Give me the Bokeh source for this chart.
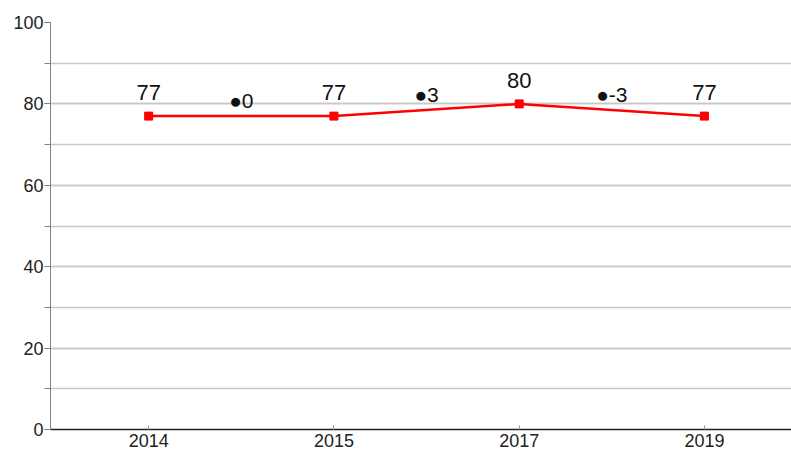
from bokeh.plotting import figure
from bokeh.models import ColumnDataSource, SingleIntervalTicker, FixedTicker, Range1d
from bokeh.embed import file_html
from bokeh.resources import INLINE
from bokeh.core.properties import value

years = ["2014", "2015", "2017", "2019"]
scores = [77, 77, 80, 77]
changes = [0, 3, -3]

xs = list(range(len(years)))
mid_x = [(xs[i] + xs[i + 1]) / 2 for i in range(len(changes))]
mid_y = [(scores[i] + scores[i + 1]) / 2 for i in range(len(changes))]
change_txt = ["\u25cf" + str(c) for c in changes]

FONT = "Liberation Sans"

p = figure(width=791, height=462, output_backend="svg", toolbar_location=None,
           x_range=Range1d(-0.53, 3.47), y_range=Range1d(0, 100),
           min_border_left=50, min_border_top=22, min_border_bottom=33, min_border_right=0)
p.outline_line_color = None
p.background_fill_color = "white"

src = ColumnDataSource(dict(x=xs, y=scores, lbl=[str(s) for s in scores]))
p.line("x", "y", source=src, line_color="#ff0000", line_width=2.5)
p.scatter("x", "y", source=src, marker="square", size=8, color="#ff0000")
p.text("x", "y", text="lbl", source=src, text_align="center", text_baseline="bottom",
       y_offset=-16, text_font=value(FONT), text_font_size="22px", text_color="#111111")

csrc = ColumnDataSource(dict(x=mid_x, y=mid_y, lbl=change_txt))
p.text("x", "y", text="lbl", source=csrc, text_align="center", text_baseline="middle",
       y_offset=-16, text_font=value(FONT), text_font_size="21px", text_color="#111111")

# y axis
p.yaxis.ticker = SingleIntervalTicker(interval=20, num_minor_ticks=2)
p.yaxis.major_tick_out = 6
p.yaxis.major_tick_in = 0
p.yaxis.minor_tick_out = 6
p.yaxis.minor_tick_in = 0
p.yaxis.axis_line_color = "#808080"
p.yaxis.major_tick_line_color = "#808080"
p.yaxis.minor_tick_line_color = "#808080"
p.yaxis.major_label_text_font = FONT
p.yaxis.major_label_text_font_size = "18px"
p.yaxis.major_label_text_color = "#222222"
p.yaxis.major_label_standoff = 1

# x axis
p.xaxis.ticker = FixedTicker(ticks=xs)
p.xaxis.major_label_overrides = {i: y for i, y in enumerate(years)}
p.xaxis.axis_line_color = "#222222"
p.xaxis.axis_line_width = 1.5
p.xaxis.major_tick_in = 4
p.xaxis.major_tick_out = 0
p.xaxis.major_tick_line_color = "#999999"
p.xaxis.minor_tick_line_color = None
p.xaxis.major_label_text_font = FONT
p.xaxis.major_label_text_font_size = "18px"
p.xaxis.major_label_text_color = "#222222"
p.xaxis.major_label_standoff = 4

p.xgrid.grid_line_color = None
p.ygrid.ticker = SingleIntervalTicker(interval=20, num_minor_ticks=2)
p.ygrid.grid_line_color = "#c8c8c8"
p.ygrid.grid_line_width = 1.5
p.ygrid.minor_grid_line_color = "#c8c8c8"
p.ygrid.minor_grid_line_width = 1.5

open("out.html", "w").write(file_html(p, INLINE))
